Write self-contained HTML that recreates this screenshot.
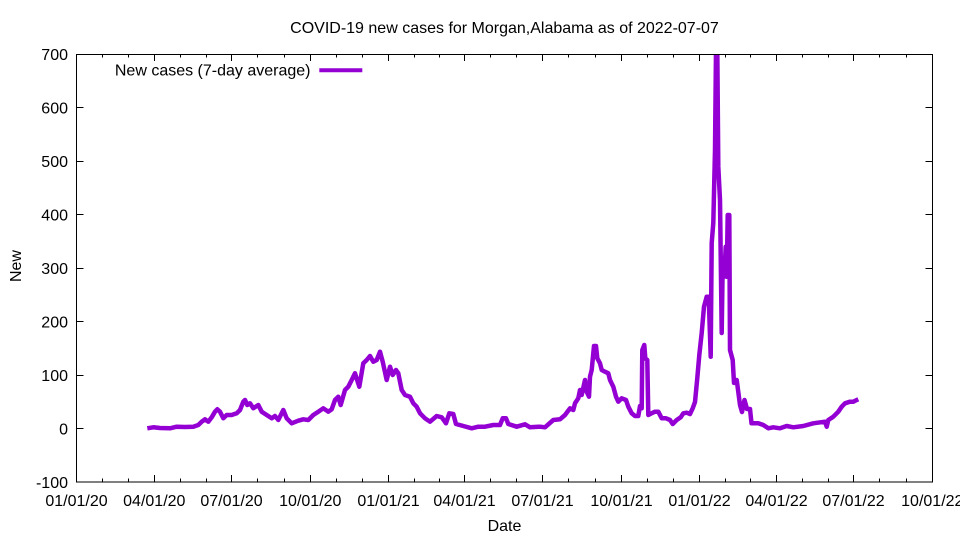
<!DOCTYPE html>
<html>
<head>
<meta charset="utf-8">
<style>
html,body{margin:0;padding:0;background:#fff;}
svg{display:block;}
text{font-family:"Liberation Sans",Arial,sans-serif;font-size:16px;fill:#000;}
</style>
</head>
<body>
<svg width="960" height="540" viewBox="0 0 960 540" xmlns="http://www.w3.org/2000/svg">
<rect x="0" y="0" width="960" height="540" fill="#fff"/>
<defs>
<clipPath id="pa"><rect x="76.5" y="54" width="856" height="428"/></clipPath>
</defs>

<text x="504.5" y="33" text-anchor="middle">COVID-19 new cases for Morgan,Alabama as of 2022-07-07</text>

<text x="21" y="266" text-anchor="middle" transform="rotate(-90 21 266)">New</text>
<text x="504.5" y="531" text-anchor="middle">Date</text>

<g stroke="#000" stroke-width="1">
<line x1="76.5" y1="54.5" x2="83.5" y2="54.5"/><line x1="932.5" y1="54.5" x2="925.5" y2="54.5"/>
<line x1="76.5" y1="107.5" x2="83.5" y2="107.5"/><line x1="932.5" y1="107.5" x2="925.5" y2="107.5"/>
<line x1="76.5" y1="161.5" x2="83.5" y2="161.5"/><line x1="932.5" y1="161.5" x2="925.5" y2="161.5"/>
<line x1="76.5" y1="214.5" x2="83.5" y2="214.5"/><line x1="932.5" y1="214.5" x2="925.5" y2="214.5"/>
<line x1="76.5" y1="268.5" x2="83.5" y2="268.5"/><line x1="932.5" y1="268.5" x2="925.5" y2="268.5"/>
<line x1="76.5" y1="321.5" x2="83.5" y2="321.5"/><line x1="932.5" y1="321.5" x2="925.5" y2="321.5"/>
<line x1="76.5" y1="375.5" x2="83.5" y2="375.5"/><line x1="932.5" y1="375.5" x2="925.5" y2="375.5"/>
<line x1="76.5" y1="428.5" x2="83.5" y2="428.5"/><line x1="932.5" y1="428.5" x2="925.5" y2="428.5"/>
</g>
<g text-anchor="end">
<text x="68" y="60">700</text>
<text x="68" y="113.5">600</text>
<text x="68" y="167">500</text>
<text x="68" y="220.5">400</text>
<text x="68" y="274">300</text>
<text x="68" y="327.5">200</text>
<text x="68" y="381">100</text>
<text x="68" y="434.5">0</text>
<text x="68" y="488">-100</text>
</g>

<g stroke="#000" stroke-width="1">
<line x1="154.5" y1="482" x2="154.5" y2="475"/><line x1="154.5" y1="54" x2="154.5" y2="61"/>
<line x1="231.5" y1="482" x2="231.5" y2="475"/><line x1="231.5" y1="54" x2="231.5" y2="61"/>
<line x1="310.5" y1="482" x2="310.5" y2="475"/><line x1="310.5" y1="54" x2="310.5" y2="61"/>
<line x1="388.5" y1="482" x2="388.5" y2="475"/><line x1="388.5" y1="54" x2="388.5" y2="61"/>
<line x1="464.5" y1="482" x2="464.5" y2="475"/><line x1="464.5" y1="54" x2="464.5" y2="61"/>
<line x1="542.5" y1="482" x2="542.5" y2="475"/><line x1="542.5" y1="54" x2="542.5" y2="61"/>
<line x1="621.5" y1="482" x2="621.5" y2="475"/><line x1="621.5" y1="54" x2="621.5" y2="61"/>
<line x1="699.5" y1="482" x2="699.5" y2="475"/><line x1="699.5" y1="54" x2="699.5" y2="61"/>
<line x1="776.5" y1="482" x2="776.5" y2="475"/><line x1="776.5" y1="54" x2="776.5" y2="61"/>
<line x1="853.5" y1="482" x2="853.5" y2="475"/><line x1="853.5" y1="54" x2="853.5" y2="61"/>
<line x1="102.5" y1="482" x2="102.5" y2="478.5"/><line x1="102.5" y1="54" x2="102.5" y2="57.5"/>
<line x1="128.5" y1="482" x2="128.5" y2="478.5"/><line x1="128.5" y1="54" x2="128.5" y2="57.5"/>
<line x1="180.5" y1="482" x2="180.5" y2="478.5"/><line x1="180.5" y1="54" x2="180.5" y2="57.5"/>
<line x1="206.5" y1="482" x2="206.5" y2="478.5"/><line x1="206.5" y1="54" x2="206.5" y2="57.5"/>
<line x1="257.5" y1="482" x2="257.5" y2="478.5"/><line x1="257.5" y1="54" x2="257.5" y2="57.5"/>
<line x1="284.5" y1="482" x2="284.5" y2="478.5"/><line x1="284.5" y1="54" x2="284.5" y2="57.5"/>
<line x1="336.5" y1="482" x2="336.5" y2="478.5"/><line x1="336.5" y1="54" x2="336.5" y2="57.5"/>
<line x1="362.5" y1="482" x2="362.5" y2="478.5"/><line x1="362.5" y1="54" x2="362.5" y2="57.5"/>
<line x1="414.5" y1="482" x2="414.5" y2="478.5"/><line x1="414.5" y1="54" x2="414.5" y2="57.5"/>
<line x1="439.5" y1="482" x2="439.5" y2="478.5"/><line x1="439.5" y1="54" x2="439.5" y2="57.5"/>
<line x1="490.5" y1="482" x2="490.5" y2="478.5"/><line x1="490.5" y1="54" x2="490.5" y2="57.5"/>
<line x1="516.5" y1="482" x2="516.5" y2="478.5"/><line x1="516.5" y1="54" x2="516.5" y2="57.5"/>
<line x1="568.5" y1="482" x2="568.5" y2="478.5"/><line x1="568.5" y1="54" x2="568.5" y2="57.5"/>
<line x1="595.5" y1="482" x2="595.5" y2="478.5"/><line x1="595.5" y1="54" x2="595.5" y2="57.5"/>
<line x1="647.5" y1="482" x2="647.5" y2="478.5"/><line x1="647.5" y1="54" x2="647.5" y2="57.5"/>
<line x1="673.5" y1="482" x2="673.5" y2="478.5"/><line x1="673.5" y1="54" x2="673.5" y2="57.5"/>
<line x1="725.5" y1="482" x2="725.5" y2="478.5"/><line x1="725.5" y1="54" x2="725.5" y2="57.5"/>
<line x1="750.5" y1="482" x2="750.5" y2="478.5"/><line x1="750.5" y1="54" x2="750.5" y2="57.5"/>
<line x1="802.5" y1="482" x2="802.5" y2="478.5"/><line x1="802.5" y1="54" x2="802.5" y2="57.5"/>
<line x1="828.5" y1="482" x2="828.5" y2="478.5"/><line x1="828.5" y1="54" x2="828.5" y2="57.5"/>
<line x1="879.5" y1="482" x2="879.5" y2="478.5"/><line x1="879.5" y1="54" x2="879.5" y2="57.5"/>
<line x1="906.5" y1="482" x2="906.5" y2="478.5"/><line x1="906.5" y1="54" x2="906.5" y2="57.5"/>
</g>
<g text-anchor="middle">
<text x="76.5" y="506">01/01/20</text>
<text x="154.3" y="506">04/01/20</text>
<text x="231.5" y="506">07/01/20</text>
<text x="310.3" y="506">10/01/20</text>
<text x="388.5" y="506">01/01/21</text>
<text x="464.5" y="506">04/01/21</text>
<text x="542.5" y="506">07/01/21</text>
<text x="621.5" y="506">10/01/21</text>
<text x="699.5" y="506">01/01/22</text>
<text x="776.5" y="506">04/01/22</text>
<text x="853.5" y="506">07/01/22</text>
<text x="932.3" y="506">10/01/22</text>
</g>

<polyline clip-path="url(#pa)" fill="none" stroke="#9400D3" stroke-width="4.5" stroke-linejoin="round" stroke-linecap="butt"
points="147.3,428.3 153.3,427.3 160,428 170,428.3 176.7,426.7 185,427 193.3,426.7 198.3,425 201.7,421.7 205,419.3 208.3,421.7 211.7,417.3 215,411.7 217.3,409.3 220,411.7 223.3,418.3 226.7,415 231.7,415 236.7,413.3 240,410 243.3,401.7 245,400 247.3,405 250,403.3 253.3,408.3 258.3,405 261.7,411.7 266.7,415 271.7,418.3 275,416 278.3,420 283.3,410 286.7,418.3 291.7,423.3 298.3,420.7 303.3,419.3 308.3,420 313.3,415 318.3,411.7 323.3,408.3 328.3,411.7 331.7,409.3 335,400 338.3,396.7 340.7,405 345,390 348.3,386.7 351.7,380 355,373.3 359.3,386.7 363.3,363.3 366.7,360 370,356 373.3,361.7 376.7,360 380,351.7 382.7,361.7 386.7,380 390,366.7 392.7,375 396,370 398.3,373.3 401.7,390 405,395 410,396.7 413.3,403.3 416.7,406.7 420,413.3 425,418.3 430,421.7 436.7,416 441.7,417.3 446,423.3 449.3,413.3 453.3,414 456,424 463.3,426 471.7,428.3 478.3,426.7 485,426.7 493.3,425 500,425 502.7,418.3 506,418.3 508.3,424 516.7,426.7 525,424.3 530,427.3 538.3,426.7 540,426.7 545,427.3 553.3,420 560,419.3 565,415 570,408.3 573.3,410 575,403.3 578.3,398.3 580,390 581.7,395 585,380 586.7,391.7 589,396.7 590,376.7 591.7,370 594,346 596,346 597.3,358.3 600,363.3 601.7,370 605,371.7 608.3,373.3 610,380 613.3,386.7 616,396.7 618.3,401.7 621.7,398.3 626,400 628.3,406.7 631.7,413.3 635,416 638.3,416 640,406 641.7,408.3 642.3,350 644.3,345 645.3,358.3 647.3,360 648.3,415 651.7,413.3 655,411.7 658.3,411.7 661.7,418.3 666,418.3 670,420 672.7,424 676.7,420 680.7,417.3 683.3,413.3 686.7,412.7 690,414 692.7,408.3 695,402 697.3,378 699.3,355 701.7,333 704,306.7 706.7,296.7 708.7,296.7 710.7,356.7 711.7,243 713.3,223 715,150 716,50 717.3,50 718.3,166.7 720,200 721.7,333 722.7,263 724.3,276.7 725.7,246.7 726.7,276.7 727.7,215 729.3,215 730,350 732.7,360 734,383 736.7,380 738.3,392 740,405 742,412 744.5,400 747,409 750,409 751.5,423.3 758.3,423.3 763.3,425 768.3,428.3 773.3,427.3 780,428.3 786.7,426 793.3,427.3 803.3,426 813.3,423.3 825,421.7 826.7,426.7 828.3,420 833.3,416.7 838.3,411.7 841.7,406.7 845,403.3 850,401.7 853.3,401.7 856.7,400 858.3,399.3"/>

<rect x="76.5" y="54.5" width="856" height="427.5" fill="none" stroke="#000" stroke-width="1"/>

<text x="310.5" y="75.5" text-anchor="end">New cases (7-day average)</text>
<line x1="319.3" y1="70.3" x2="362.3" y2="70.3" stroke="#9400D3" stroke-width="4"/>
</svg>
</body>
</html>
